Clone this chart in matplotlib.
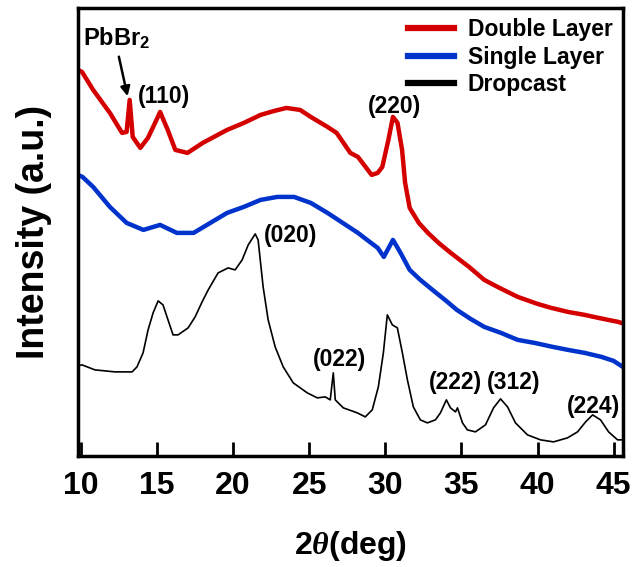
"""
XRD patterns: double layer, single layer and dropcast films.
"""

import matplotlib
matplotlib.use("Agg")
import matplotlib.pyplot as plt

# Values (intensity in arbitrary units)
dropcast_x = [9.8, 10.07, 10.92, 12.24, 13.36, 13.68, 14.08, 14.41, 14.74, 15.07, 15.39,
              15.72, 16.05, 16.38, 17.04, 17.5, 17.96, 18.36, 19.01, 19.67, 20.13, 20.59,
              20.99, 21.45, 21.64, 21.97, 22.30, 22.76, 23.29, 23.95, 24.87, 25.53, 26.05,
              26.38, 26.58, 26.71, 27.24, 28.16, 28.68, 29.14, 29.54, 29.87, 30.13, 30.46,
              30.79, 31.12, 31.45, 31.84, 32.30, 32.76, 33.29, 33.62, 34.01, 34.28, 34.61,
              34.74, 35.07, 35.39, 35.92, 36.58, 37.11, 37.57, 38.03, 38.55, 39.34, 40.2,
              41.05, 41.97, 42.63, 43.16, 43.62, 44.14, 44.67, 45.26, 45.59]
dropcast_y = [90, 91, 86, 84, 84, 89, 103, 126, 143, 155, 151,
              136, 121, 121, 128, 139, 154, 166, 183, 188, 186, 196,
              211, 222, 216, 169, 136, 109, 89, 73, 63, 58, 59,
              56, 83, 56, 48, 43, 39, 46, 69, 103, 141, 131,
              128, 103, 76, 49, 36, 33, 36, 43, 56, 48, 44,
              48, 33, 26, 24, 31, 48, 57, 49, 33, 21, 16,
              14, 18, 24, 34, 41, 36, 24, 16, 16]

double_x = [9.8, 10.07, 10.8, 11.9, 12.7, 13.0, 13.2, 13.4, 13.9, 14.4, 14.9, 15.2, 15.7,
            16.2, 17.0, 18.0, 19.6, 20.7, 21.8, 22.7, 23.5, 24.4, 25.1, 26.2, 26.8, 27.7,
            28.2, 29.1, 29.5, 29.8, 30.2, 30.5, 30.8, 31.1, 31.3, 31.6, 32.2, 32.8, 33.5,
            34.3, 35.5, 36.5, 37.5, 38.7, 40.0, 40.9, 42.0, 43.1, 44.0, 45.3, 45.5]
double_y = [386, 384, 366, 343, 323, 324, 356, 319, 308, 318, 334, 344, 326,
            306, 303, 313, 326, 333, 341, 345, 348, 346, 339, 329, 323, 303,
            299, 281, 283, 289, 316, 339, 333, 306, 273, 248, 233, 223, 213,
            203, 189, 176, 168, 159, 152, 148, 144, 141, 138, 134, 133]

single_x = [9.8, 10.1, 10.8, 11.9, 13.0, 14.1, 15.2, 16.3, 17.4, 18.5, 19.6, 20.7,
            21.8, 22.9, 24.0, 25.1, 26.2, 27.2, 28.2, 28.8, 29.5, 29.9, 30.5, 31.0,
            31.6, 32.3, 33.1, 34.0, 34.7, 35.6, 36.5, 37.6, 38.7, 39.8, 41.0, 42.0,
            43.1, 44.2, 45.0, 45.5]
single_y = [281, 279, 269, 249, 233, 226, 231, 223, 223, 233, 243, 249,
            256, 259, 259, 253, 243, 233, 223, 216, 208, 199, 216, 203,
            186, 176, 166, 155, 146, 137, 129, 123, 116, 113, 109, 106,
            103, 99, 95, 90]

series = [
    ("Double Layer", double_x, double_y, "#d40000"),
    ("Single Layer", single_x, single_y, "#0033cc"),
    ("Dropcast", dropcast_x, dropcast_y, "black"),
]

# peak labels: (text, x, y)
peak_labels = [
    ("(110)", 15.46, 359),
    ("(220)", 30.6, 349),
    ("(020)", 23.75, 220),
    ("(022)", 27.0, 96),
    ("(222)", 34.6, 73),
    ("(312)", 38.4, 73),
    ("(224)", 43.7, 49),
]
x_ticks = [10, 15, 20, 25, 30, 35, 40, 45]

plt.rcParams["font.family"] = ["Liberation Sans", "DejaVu Sans"]
plt.rcParams["font.weight"] = "bold"
plt.rcParams["mathtext.fontset"] = "custom"
plt.rcParams["mathtext.rm"] = "Liberation Sans:bold"
plt.rcParams["mathtext.bf"] = "Liberation Sans:bold"
plt.rcParams["mathtext.it"] = "Liberation Serif:italic"

fig = plt.figure(figsize=(6.44, 5.67), dpi=100)
ax = fig.add_axes([0.121, 0.196, 0.846, 0.790])

for name, xs, ys, color in series:
    lw = 1.2 if color == "black" else 3.2
    ax.plot(xs, ys, color=color, lw=lw, label=name)

for text, x, y in peak_labels:
    ax.text(x, y, text, ha="center", va="center", fontsize=16.5, fontweight="bold")

ax.text(12.37, 418, "PbBr$_\\mathbf{2}$", ha="center", va="center",
        fontsize=17, fontweight="bold")
ax.annotate("", xy=(13.1, 357), xytext=(12.45, 402),
            arrowprops=dict(arrowstyle="-|>", color="black", lw=1.8,
                            mutation_scale=14))

ax.set_xlim(9.8, 45.6)
ax.set_ylim(0, 448)
ax.set_xticks(x_ticks)
ax.set_yticks([])
ax.tick_params(axis="x", direction="in", length=10, width=2, labelsize=23, pad=11)
for lab in ax.get_xticklabels():
    lab.set_fontweight("bold")
for sp in ax.spines.values():
    sp.set_linewidth(2.5)

ax.set_xlabel("2$\\mathit{\\theta}$(deg)", fontsize=23, fontweight="bold", labelpad=20)
ax.set_ylabel("Intensity (a.u.)", fontsize=27, fontweight="bold", labelpad=19)

leg = ax.legend(loc="upper right", frameon=False, fontsize=16.5,
                handlelength=2.0, handletextpad=0.6, labelspacing=0.2,
                borderaxespad=0.05)
for line in leg.get_lines():
    line.set_linewidth(4.5)
for t in leg.get_texts():
    t.set_fontweight("bold")

fig.savefig("out.png", dpi=100)
